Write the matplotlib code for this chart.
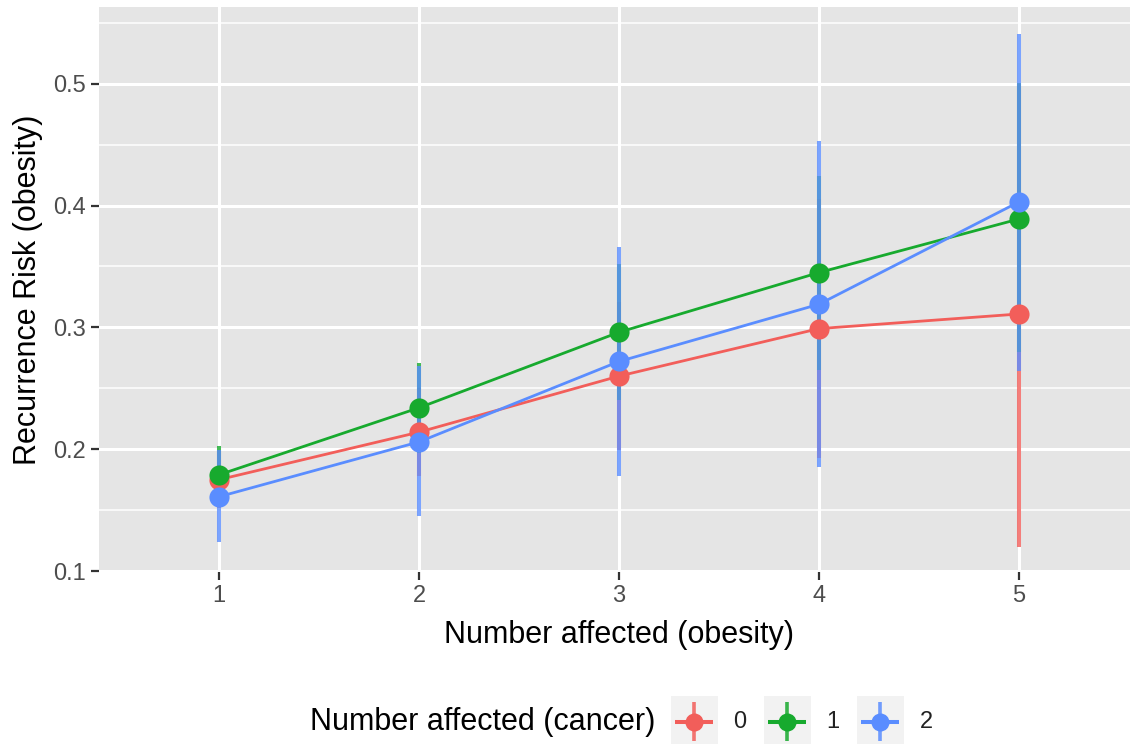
import matplotlib
matplotlib.use("Agg")
import matplotlib.pyplot as plt
from matplotlib.patches import Rectangle
import numpy as np

plt.rcParams['font.family'] = ['Liberation Sans', 'DejaVu Sans']

# ---- data ----
x_labels = ['1', '2', '3', '4', '5']
groups = ['0', '1', '2']
colors = ['#F25E5A', '#17AA2E', '#5A8DFF']

risk_0 = [0.175, 0.214, 0.260, 0.299, 0.311]
lower_0 = [0.152, 0.178, 0.199, 0.193, 0.120]
upper_0 = [0.199, 0.250, 0.321, 0.405, 0.500]

risk_1 = [0.179, 0.234, 0.296, 0.345, 0.389]
lower_1 = [0.155, 0.197, 0.240, 0.265, 0.280]
upper_1 = [0.203, 0.271, 0.352, 0.424, 0.501]

risk_2 = [0.161, 0.206, 0.272, 0.319, 0.403]
lower_2 = [0.124, 0.145, 0.178, 0.185, 0.264]
upper_2 = [0.199, 0.268, 0.366, 0.453, 0.541]

risks = [risk_0, risk_1, risk_2]
lowers = [lower_0, lower_1, lower_2]
uppers = [upper_0, upper_1, upper_2]

y_ticks = [0.1, 0.2, 0.3, 0.4, 0.5]
y_minor = [0.15, 0.25, 0.35, 0.45, 0.55]

x_title = 'Number affected (obesity)'
y_title = 'Recurrence Risk (obesity)'
legend_title = 'Number affected (cancer)'

# ---- figure ----
W, H = 1130, 744
fig = plt.figure(figsize=(W / 100, H / 100), dpi=100)
left, right, top, bottom = 99, 1139, 7, 572
ax = fig.add_axes([left / W, (H - bottom) / H, (right - left) / W, (bottom - top) / H])
ax.set_facecolor('#E5E5E5')
for s in ax.spines.values():
    s.set_visible(False)

xpos = np.arange(1, len(x_labels) + 1)
ax.set_xlim(0.4, 5.6)
ax.set_ylim(0.0992, 0.563)

ax.set_xticks(xpos)
ax.set_xticklabels(x_labels)
ax.set_yticks(y_ticks)
ax.set_yticklabels([f'{v:.1f}' for v in y_ticks])
ax.set_yticks(y_minor, minor=True)
ax.tick_params(axis='both', which='major', labelsize=17, labelcolor='#4D4D4D',
               color='#333333', length=5.5, width=1.6, pad=4)
ax.tick_params(axis='y', which='minor', length=0)

ax.grid(True, which='major', color='white', lw=2.2, zorder=0)
ax.grid(True, which='minor', axis='y', color='white', lw=1.1, zorder=0)
ax.set_axisbelow(True)

for i, g in enumerate(groups):
    ax.vlines(xpos, lowers[i], uppers[i], color=colors[i], lw=2.9, alpha=0.8, zorder=2)
for i, g in enumerate(groups):
    ax.plot(xpos, risks[i], color=colors[i], lw=2.0, zorder=3)
for i, g in enumerate(groups):
    ax.plot(xpos, risks[i], 'o', color=colors[i], ms=14.5, mec='none', zorder=4)

fig.text(619 / W, 1 - 635 / H, x_title, ha='center', va='center', fontsize=22)
fig.text(28 / W, 1 - 290 / H, y_title, ha='center', va='center', rotation=90, fontsize=22)

# ---- legend (drawn in pixel coords) ----
lax = fig.add_axes([0, 0, 1, 1], zorder=5)
lax.set_xlim(0, W)
lax.set_ylim(H, 0)
lax.axis('off')
cy = 722
lax.text(655, cy, legend_title, ha='right', va='center', fontsize=22)
key_x0 = 694
key_dx = 93
for i, g in enumerate(groups):
    cx = key_x0 + i * key_dx
    lax.add_patch(Rectangle((cx - 23.5, 696), 47, 49, facecolor='#F2F2F2', edgecolor='none'))
    lax.plot([cx - 19, cx + 19], [cy, cy], color=colors[i], lw=2.9, solid_capstyle='butt')
    lax.plot([cx, cx], [cy - 20, cy + 19], color=colors[i], lw=2.6, alpha=0.85,
             solid_capstyle='butt')
    lax.plot([cx], [cy], 'o', color=colors[i], ms=13, mec='none')
    lax.text(cx + 46, cy, g, ha='center', va='center', fontsize=17, color='#222222')

fig.savefig('out.png', dpi=100)
